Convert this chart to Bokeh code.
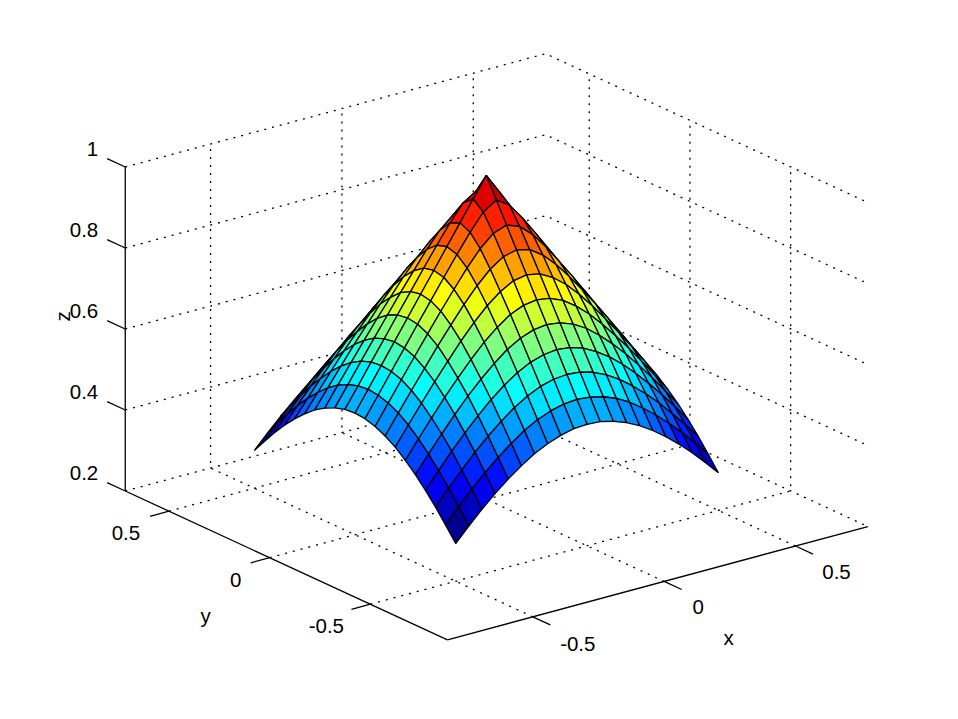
from bokeh.plotting import figure
from bokeh.models import Range1d, ColumnDataSource
from bokeh.core.properties import value
from bokeh.embed import file_html
from bokeh.resources import INLINE

# ---------- data ----------
x_values = [-0.5, -0.45, -0.4, -0.35, -0.3, -0.25, -0.2, -0.15, -0.1, -0.05, 0.0,
            0.05, 0.1, 0.15, 0.2, 0.25, 0.3, 0.35, 0.4, 0.45, 0.5]
y_values = list(x_values)
# height at the grid nodes, centre (row 0, column 0) out to the edge; the surface repeats in all four quadrants
z_quadrant = [
    [1.000, .950, .900, .850, .800, .750, .700, .650, .600, .550, .500],
    [.950, .929, .888, .842, .794, .745, .696, .646, .597, .547, .498],
    [.900, .888, .859, .820, .776, .731, .684, .636, .588, .539, .490],
    [.850, .842, .820, .788, .750, .708, .665, .619, .573, .526, .478],
    [.800, .794, .776, .750, .717, .680, .639, .597, .553, .508, .462],
    [.750, .745, .731, .708, .680, .646, .609, .570, .528, .485, .441],
    [.700, .696, .684, .665, .639, .609, .576, .539, .500, .459, .417],
    [.650, .646, .636, .619, .597, .570, .539, .505, .469, .430, .390],
    [.600, .597, .588, .573, .553, .528, .500, .469, .434, .398, .360],
    [.550, .547, .539, .526, .508, .485, .459, .430, .398, .364, .327],
    [.500, .498, .490, .478, .462, .441, .417, .390, .360, .327, .293],
]
x_ticks = [-0.5, 0, 0.5]
y_ticks = [-0.5, 0, 0.5]
z_ticks = [0.2, 0.4, 0.6, 0.8, 1]
x_tick_labels = ["-0.5", "0", "0.5"]
y_tick_labels = ["-0.5", "0", "0.5"]
z_tick_labels = ["0.2", "0.4", "0.6", "0.8", "1"]
x_limits = (-0.8247, 0.7753)
y_limits = (-0.883, 0.717)
z_limits = (0.2, 1.0)

# ---------- view (orthographic projection onto the page) ----------
FRONT = (447.0, 639.3)
X_DIR = (262.7, -70.8)
Y_DIR = (-201.4, -93.0)
Z_DIR = -405.0
W, H = 942, 703


def project(x, y, z):
    dx, dy, dz = x - x_limits[0], y - y_limits[0], z - z_limits[0]
    return (FRONT[0] + dx * X_DIR[0] + dy * Y_DIR[0],
            FRONT[1] + dx * X_DIR[1] + dy * Y_DIR[1] + dz * Z_DIR)


def jet(t):
    k = min(63, int(t * 64))
    s = (k + 1) / 64
    ch = lambda c: max(0.0, min(1.0, 1.5 - abs(4 * s - c)))
    return "#%02x%02x%02x" % tuple(round(255 * ch(c)) for c in (3, 2, 1))


n = len(x_values)
mid = n // 2
z_grid = [[z_quadrant[abs(i - mid)][abs(j - mid)] for j in range(n)] for i in range(n)]
z_min = min(min(r) for r in z_grid)
z_max = max(max(r) for r in z_grid)

p = figure(width=W, height=H, output_backend="svg", toolbar_location=None,
           x_range=Range1d(0, W), y_range=Range1d(H, 0),
           min_border=0, outline_line_color=None, background_fill_color="white",
           border_fill_color="white", x_axis_location=None, y_axis_location=None)
p.grid.visible = False


def polyline(pts):
    c = [project(*q) for q in pts]
    return [a for a, _ in c], [b for _, b in c]


# dotted grid on the floor and the two back walls
gx, gy = [], []
for t in x_ticks:
    a, b = polyline([(t, y_limits[0], z_limits[0]), (t, y_limits[1], z_limits[0]), (t, y_limits[1], z_limits[1])])
    gx.append(a); gy.append(b)
for t in y_ticks:
    a, b = polyline([(x_limits[0], t, z_limits[0]), (x_limits[1], t, z_limits[0]), (x_limits[1], t, z_limits[1])])
    gx.append(a); gy.append(b)
for t in z_ticks:
    a, b = polyline([(x_limits[0], y_limits[1], t), (x_limits[1], y_limits[1], t), (x_limits[1], y_limits[0], t)])
    gx.append(a); gy.append(b)
p.multi_line(gx, gy, line_color="black", line_width=1.3, line_dash="2 6")

# axes and ticks
ax, ay = [], []
for seg in ([(x_limits[0], y_limits[0], z_limits[0]), (x_limits[1], y_limits[0], z_limits[0])],
            [(x_limits[0], y_limits[0], z_limits[0]), (x_limits[0], y_limits[1], z_limits[0])],
            [(x_limits[0], y_limits[1], z_limits[0]), (x_limits[0], y_limits[1], z_limits[1])]):
    a, b = polyline(seg); ax.append(a); ay.append(b)
for t in x_ticks:
    a, b = polyline([(t, y_limits[0], z_limits[0]), (t, y_limits[0] - 0.087, z_limits[0])])
    ax.append(a); ay.append(b)
for t in y_ticks:
    a, b = polyline([(x_limits[0], t, z_limits[0]), (x_limits[0] - 0.072, t, z_limits[0])])
    ax.append(a); ay.append(b)
for t in z_ticks:
    a, b = polyline([(x_limits[0], y_limits[1], t), (x_limits[0], y_limits[1] + 0.09, t)])
    ax.append(a); ay.append(b)
p.multi_line(ax, ay, line_color="black", line_width=1.3)

# surface, far cells first; each cell takes the colour of its lowest-index node
fx, fy, fc = [], [], []
for i in range(n - 2, -1, -1):
    for j in range(n - 2, -1, -1):
        a, b = polyline([(x_values[j], y_values[i], z_grid[i][j]),
                         (x_values[j + 1], y_values[i], z_grid[i][j + 1]),
                         (x_values[j + 1], y_values[i + 1], z_grid[i + 1][j + 1]),
                         (x_values[j], y_values[i + 1], z_grid[i + 1][j])])
        fx.append(a); fy.append(b)
        fc.append(jet((z_grid[i][j] - z_min) / (z_max - z_min)))
p.patches(xs="xs", ys="ys", fill_color="c", line_color="black", line_width=1.3,
          source=ColumnDataSource(dict(xs=fx, ys=fy, c=fc)))

# texts
FONT = value("Liberation Sans")
SIZE = value("20.5px")
x_label_off = [(45, 27), (34, 26), (41, 26)]
y_label_off = [(-44, 22), (-34, 22), (-43, 22)]
tx, ty, tt = [], [], []
for t, s, o in zip(x_ticks, x_tick_labels, x_label_off):
    a, b = project(t, y_limits[0], z_limits[0])
    tx.append(a + o[0]); ty.append(b + o[1]); tt.append(s)
for t, s, o in zip(y_ticks, y_tick_labels, y_label_off):
    a, b = project(x_limits[0], t, z_limits[0])
    tx.append(a + o[0]); ty.append(b + o[1]); tt.append(s)
p.text(tx, ty, text=tt, text_font=FONT, text_font_size=SIZE, text_align="center",
       text_baseline="middle", text_color="black")
zx, zy, zt = [], [], []
for t, s in zip(z_ticks, z_tick_labels):
    a, b = project(x_limits[0], y_limits[1], t)
    zx.append(a - 27); zy.append(b - 18); zt.append(s)
p.text(zx, zy, text=zt, text_font=FONT, text_font_size=SIZE, text_align="right",
       text_baseline="middle", text_color="black")
p.text([728, 205], [637, 615], text=["x", "y"], text_font=FONT, text_font_size=SIZE,
       text_align="center", text_baseline="middle", text_color="black")
p.text([62], [316], text=["z"], angle=[1.5708], text_font=FONT, text_font_size=SIZE,
       text_align="center", text_baseline="middle", text_color="black")

open("out.html", "w").write(file_html(p, INLINE))
